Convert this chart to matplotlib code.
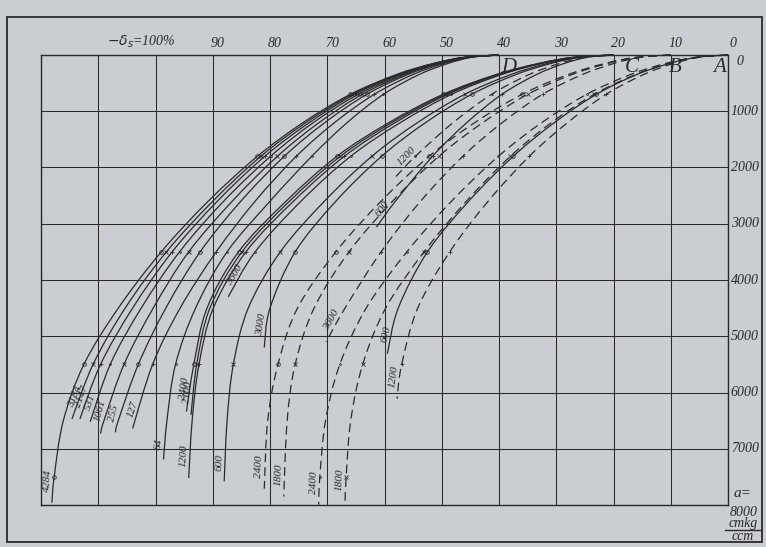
import numpy as np
import matplotlib.pyplot as plt
from matplotlib.patches import Rectangle, PathPatch
from matplotlib.path import Path
from matplotlib.lines import Line2D
import matplotlib.transforms as mtransforms

A_LEV = [0, 40, 150, 350, 700, 1200, 1800, 2600, 3500, 4500, 5500, 6500, 7500]

# family D (start at -delta_s = 40 %), solid lines
D_LABELS = ['4284', '3184', '2147', '531', '1061', '255', '127', '64']
D_X = [
    [40, 46.0, 51.5, 58.0, 66.0, 74.2, 82.2, 90.8, 99.0, 106.5, 112.5, 116.1, 117.7],
    [40, 45.9, 51.3, 57.7, 65.6, 73.7, 81.6, 90.0, 98.1, 105.3, 110.9],
    [40, 45.8, 51.1, 57.4, 65.2, 73.1, 80.9, 89.2, 97.1, 104.0, 109.6],
    [40, 45.7, 50.9, 57.0, 64.6, 72.4, 79.9, 88.1, 95.8, 102.5, 107.9],
    [40, 45.5, 50.6, 56.5, 63.9, 71.4, 78.7, 86.6, 94.2, 100.4, 105.5, 109.0],
    [40, 45.3, 50.2, 56.0, 63.1, 70.4, 77.5, 85.1, 92.2, 98.2, 103.0, 106.5],
    [40, 45.0, 49.6, 55.1, 61.8, 68.7, 75.4, 82.6, 89.4, 95.7, 100.5],
    [40, 44.7, 48.9, 54.0, 60.2, 66.5, 72.7, 80.0, 87.5, 93.0, 96.5, 98.0],
]
D_END_A = [7960, 6470, 6470, 6520, 6730, 6710, 6640, 7190]
D_END_X = [118.1, 114.6, 113.2, 111.4, 109.6, 107.0, 104.0, 98.6]

# family C (start at 20 %)
C_LABELS = ['2400', '2100', '1200', '3600', '600', '3000', '600', '1200']
C_DASHED = [False, False, False, False, False, False, False, True]
C_X = [
    [20, 26.9, 33.1, 40.6, 49.8, 59.2, 68.3, 77.2, 85.5, 91.0, 93.3],
    [20, 26.8, 32.9, 40.3, 49.4, 58.7, 67.7, 76.6, 84.9, 90.5, 92.8],
    [20, 26.7, 32.7, 40.0, 49.0, 58.1, 67.0, 75.9, 84.2, 89.9, 92.4, 93.6],
    [20, 26.6, 32.5, 39.6, 48.3, 57.2, 65.9, 74.6, 82.6],
    [20, 26.0, 31.5, 38.0, 46.0, 54.2, 62.2, 70.5, 78.2, 83.8, 86.4, 87.5],
    [20, 25.7, 30.9, 37.1, 44.8, 52.8, 60.5, 68.5, 75.6, 80.0],
    [20, 24.5, 28.6, 33.5, 39.5, 45.6, 51.6, 58.1],
    [20, 24.9, 29.4, 34.8, 41.3, 48.0, 54.6],
]
C_END_A = [6340, 6400, 7520, 4300, 7580, 5200, 3060, 2160]
C_END_X = [94.6, 93.8, 94.2, 87.3, 88.0, 81.0, 61.4, 58.0]

# family B (start at 10 %), dashed lines
B_LABELS = ['2400', '1800', '3600']
B_X = [
    [10, 16.0, 21.5, 28.0, 36.0, 44.2, 52.2, 60.6, 68.5, 75.2, 78.6, 80.4],
    [10, 15.8, 21.0, 27.3, 35.0, 42.8, 50.5, 58.6, 66.2, 72.3, 75.6, 77.0],
    [10, 15.2, 19.9, 25.5, 32.4, 39.4, 46.3, 53.7, 60.6, 66.9],
]
B_END_A = [7710, 7850, 5100]
B_END_X = [81.0, 77.6, 70.2]

# family A (start at 0 %)
A_LABELS = ['2400', '1800', '600', '1200']
A_DASHED = [True, True, False, True]
A_X = [
    [0, 5.7, 10.9, 17.1, 24.7, 32.5, 40.1, 48.3, 56.1, 63.2, 67.8, 70.3, 71.3],
    [0, 5.4, 10.4, 16.2, 23.4, 30.8, 38.0, 45.7, 53.1, 59.8, 63.8, 65.9, 66.7],
    [0, 5.3, 10.2, 16.0, 23.0, 30.3, 37.5, 45.3, 52.5, 57.6],
    [0, 4.9, 9.5, 14.8, 21.3, 28.0, 34.7, 41.9, 48.6, 54.2, 57.0],
]
A_END_A = [7995, 7950, 5310, 6110]
A_END_X = [71.5, 66.9, 59.5, 57.8]

TOP_TICKS = [90, 80, 70, 60, 50, 40, 30, 20, 10, 0]
RIGHT_TICKS = [1000, 2000, 3000, 4000, 5000, 6000, 7000]

BG = '#caced2'
INK = '#2a2a2a'
FONT = dict(family='Liberation Serif', style='italic')

fig = plt.figure(figsize=(7.66, 5.47), dpi=100)
fig.patch.set_facecolor(BG)
W, H = 766, 547
ax = fig.add_axes([41 / W, 42 / H, 687 / W, 450 / H])
ax.set_facecolor(BG)
ax.set_xlim(120, 0)
ax.set_ylim(8000, 0)
ax.set_xticks(np.arange(0, 121, 10))
ax.set_yticks(np.arange(0, 8001, 1000))
ax.grid(True, color=INK, lw=0.75)
ax.tick_params(length=0, labelbottom=False, labelleft=False)
for sp in ax.spines.values():
    sp.set_color(INK)
    sp.set_linewidth(1.0)

# outer frame of the plate
fig.patches.append(Rectangle((7 / W, 5 / H), 755 / W, 525 / H, transform=fig.transFigure,
                             fill=False, ec=INK, lw=1.3))

marks = ['o', 'x', '+', '.', 'x', 'o', '+', '.']


def smooth_path(xx, aa):
    # Catmull-Rom through the read points, drawn as cubic Bezier segments
    P = ax.transData.transform(np.column_stack([xx, aa]))
    Q = np.vstack([P[0], P, P[-1]])
    verts = [P[0]]
    codes = [Path.MOVETO]
    for i in range(1, len(Q) - 2):
        c1 = Q[i] + (Q[i + 1] - Q[i - 1]) / 6
        c2 = Q[i + 1] - (Q[i + 2] - Q[i]) / 6
        verts += [c1, c2, Q[i + 1]]
        codes += [Path.CURVE4] * 3
    verts = ax.transData.inverted().transform(np.array(verts))
    return Path(verts, codes)


def draw(xs, x_end, a_end, label, dashed, k):
    aa = A_LEV[:len(xs)] + [a_end]
    xx = list(xs) + [x_end]
    ls = (0, (7, 4)) if dashed else '-'
    ax.add_patch(PathPatch(smooth_path(xx, aa), fill=False, ec=INK, lw=0.9, ls=ls,
                           clip_on=False))
    # small test-point marks on the curve
    ax.plot(xx[4:-1:2], aa[4:-1:2], ls='none', marker=marks[k % len(marks)],
            ms=2.6, mew=0.6, mfc='none', mec=INK)
    # label along the curve near its end
    p1 = ax.transData.transform((xx[-1], aa[-1]))
    p0 = ax.transData.transform((xx[-2], aa[-2]))
    d = p0 - p1
    d = d / np.hypot(*d)
    n = np.array([-d[1], d[0]])
    off = d * (8 + 3.5 * len(label)) + n * 6
    ang = np.degrees(np.arctan2(d[1], d[0]))
    ax.annotate(label, xy=(xx[-1], aa[-1]), xytext=(off[0], off[1]),
                textcoords='offset pixels', rotation=ang, rotation_mode='anchor',
                ha='center', va='center', fontsize=8, color=INK, **FONT)


k = 0
for xs, xe, ae, lab in zip(D_X, D_END_X, D_END_A, D_LABELS):
    draw(xs, xe, ae, lab, False, k); k += 1
for xs, xe, ae, lab, ds in zip(C_X, C_END_X, C_END_A, C_LABELS, C_DASHED):
    draw(xs, xe, ae, lab, ds, k); k += 1
for xs, xe, ae, lab in zip(B_X, B_END_X, B_END_A, B_LABELS):
    draw(xs, xe, ae, lab, True, k); k += 1
for xs, xe, ae, lab, ds in zip(A_X, A_END_X, A_END_A, A_LABELS, A_DASHED):
    draw(xs, xe, ae, lab, ds, k); k += 1

# top scale
top = mtransforms.blended_transform_factory(ax.transData, ax.transAxes)
for v in TOP_TICKS:
    ax.text(v - 0.8, 1.012, str(v), transform=top, ha='center', va='bottom',
            fontsize=10, color=INK, **FONT)
ax.text(102.5, 1.012, r'$-\delta_s$=100%', transform=top, ha='center', va='bottom',
        fontsize=10, color=INK, **FONT)

# right scale
right = mtransforms.blended_transform_factory(ax.transAxes, ax.transData)
for v in RIGHT_TICKS:
    ax.text(1.004, v, str(v), transform=right, ha='left', va='center',
            fontsize=10, color=INK, **FONT)
ax.text(1.012, 120, '0', transform=right, ha='left', va='center', fontsize=10, color=INK, **FONT)
ax.text(1.008, 7800, 'a=', transform=right, ha='left', va='center', fontsize=11, color=INK, **FONT)
ax.text(1.002, 8130, '8000', transform=right, ha='left', va='center', fontsize=10, color=INK, **FONT)
fig.text(743 / W, 1 - 524 / H, 'cmkg', ha='center', va='center', fontsize=10, color=INK, **FONT)
fig.text(743 / W, 1 - 536 / H, 'ccm', ha='center', va='center', fontsize=10, color=INK, **FONT)
fig.lines.append(Line2D([725 / W, 761 / W], [1 - 530 / H, 1 - 530 / H],
                        transform=fig.transFigure, color=INK, lw=1.0))

# family letters
for x, s in [(38.3, 'D'), (16.8, 'C'), (9.3, 'B'), (1.5, 'A')]:
    ax.text(x, 230, s, ha='center', va='center', fontsize=15, color=INK, **FONT)

fig.savefig('out.png', dpi=100, facecolor=BG)
